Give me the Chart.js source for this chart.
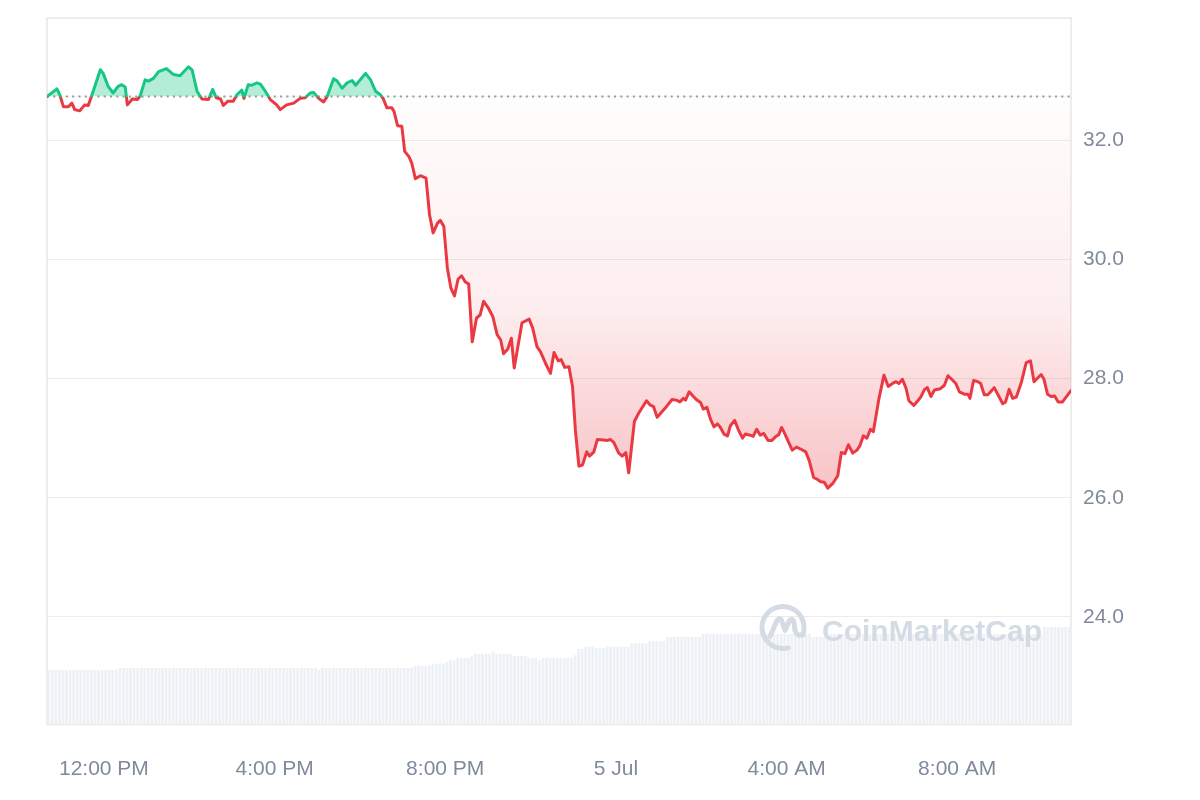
<!DOCTYPE html>
<html>
<head>
<meta charset="utf-8">
<title>Price chart</title>
<script src="https://cdn.jsdelivr.net/npm/chart.js@4.4.1/dist/chart.umd.min.js"></script>
<style>
  html,body{margin:0;padding:0;background:#fff}
  #wrap{width:1200px;height:800px;position:relative}
</style>
</head>
<body>
<div id="wrap"><canvas id="chart"></canvas></div>
<script>
// times are minutes counted from 00:00 on 4 Jul (640 = 10:40 AM, 1440 = 5 Jul 00:00)
const priceTimes = [
  640,654,658,663,670,675,679,686,693,698,705,715,719,726,733,740,745,750,753,760,
  767,771,778,783,790,797,808,818,827,839,844,851,858,867,873,878,884,888,894,902,
  907,914,917,923,928,935,940,947,954,963,968,977,987,996,1003,1010,1015,1022,1029,1034,
  1043,1048,1055,1062,1069,1074,1088,1095,1102,1109,1113,1118,1125,1128,1133,1139,1143,1149,1153,1158,
  1165,1173,1178,1183,1189,1193,1198,1203,1208,1213,1218,1223,1228,1233,1238,1244,1249,1254,1261,1267,
  1273,1278,1282,1288,1293,1297,1308,1318,1323,1329,1334,1341,1348,1353,1359,1363,1368,1374,1379,1383,
  1388,1393,1399,1403,1409,1414,1423,1428,1432,1437,1444,1449,1454,1458,1466,1472,1483,1488,1493,1498,
  1505,1511,1519,1525,1530,1535,1538,1543,1549,1554,1559,1563,1568,1573,1578,1583,1587,1592,1597,1601,
  1607,1612,1618,1622,1629,1633,1638,1643,1648,1654,1659,1665,1669,1673,1677,1683,1688,1694,1701,1707,
  1712,1718,1723,1728,1733,1738,1745,1752,1757,1762,1767,1773,1779,1783,1788,1793,1798,1802,1810,1817,
  1823,1829,1834,1838,1843,1848,1852,1859,1864,1869,1874,1878,1883,1888,1896,1902,1907,1914,1918,1923,
  1930,1935,1938,1943,1949,1953,1958,1963,1967,1972,1977,1984,1988,1993,1998,2003,2010,2017,2023,2028,
  2038,2042,2047,2052,2057,2062,2068,2080
];
const priceValues = [
  32.74,32.87,32.77,32.57,32.57,32.63,32.52,32.50,32.60,32.59,32.83,33.19,33.13,32.91,32.80,32.91,32.94,32.90,32.60,32.70,
  32.69,32.75,33.02,33.00,33.05,33.16,33.21,33.11,33.09,33.24,33.19,32.83,32.70,32.69,32.86,32.72,32.70,32.59,32.66,32.66,
  32.77,32.85,32.71,32.94,32.93,32.97,32.95,32.83,32.69,32.60,32.52,32.60,32.63,32.71,32.72,32.80,32.81,32.71,32.65,32.74,
  33.04,33.00,32.88,32.97,33.01,32.93,33.13,33.02,32.83,32.77,32.70,32.55,32.55,32.49,32.25,32.24,31.82,31.73,31.62,31.36,
  31.41,31.37,30.75,30.45,30.61,30.66,30.56,29.86,29.52,29.39,29.67,29.73,29.63,29.59,28.62,29.02,29.07,29.30,29.18,29.04,
  28.74,28.65,28.42,28.50,28.68,28.18,28.94,29.00,28.85,28.54,28.45,28.26,28.09,28.44,28.30,28.32,28.19,28.20,27.87,27.14,
  26.53,26.55,26.77,26.70,26.77,26.98,26.97,26.96,26.98,26.93,26.75,26.70,26.76,26.42,27.28,27.42,27.63,27.56,27.53,27.35,
  27.45,27.53,27.65,27.64,27.61,27.67,27.64,27.78,27.70,27.64,27.60,27.49,27.52,27.32,27.19,27.24,27.18,27.07,27.04,27.21,
  27.30,27.15,27.00,27.07,27.05,27.03,27.15,27.05,27.08,26.96,26.96,27.03,27.06,27.18,27.09,26.93,26.80,26.85,26.81,26.77,
  26.62,26.34,26.31,26.27,26.26,26.16,26.24,26.37,26.76,26.74,26.89,26.75,26.80,26.87,27.04,27.00,27.15,27.11,27.67,28.06,
  27.87,27.92,27.95,27.92,27.99,27.84,27.63,27.55,27.62,27.70,27.82,27.85,27.70,27.81,27.83,27.89,28.05,27.97,27.92,27.78,
  27.74,27.74,27.67,27.97,27.95,27.92,27.73,27.73,27.78,27.85,27.74,27.58,27.61,27.82,27.67,27.69,27.93,28.27,28.30,27.95,
  28.07,27.99,27.74,27.70,27.71,27.61,27.61,27.80
];
const openPrice = 32.74;   // price at the start of the window (dotted line)

// volume bars, one every 5 minutes from 10:40 AM
const volumeStart = 640;
const volumeStep = 5;
const volumeValues = [
  7.7,7.7,7.7,7.7,7.7,7.7,7.7,7.7,7.7,7.7,
  7.7,7.7,7.7,7.7,7.7,7.7,7.7,7.7,7.7,7.7,
  8,8,8,8,8,8,8,8,8,8,
  8,8,8,8,8,8,8,8,8,8,
  8,8,8,8,8,8,8,8,8,8,
  8,8,8,8,8,8,8,8,8,8,
  8,8,8,8,8,8,8,8,8,8,
  8,8,8,8,8,8,
  7.7,
  8,8,8,8,8,8,8,8,8,8,
  8,8,8,8,8,8,8,8,8,8,
  8,8,8,8,8,8,
  8.3,8.3,8.3,8.3,8.3,
  8.6,8.6,8.6,8.6,
  8.8,
  9.1,9.1,
  9.4,9.4,9.4,9.4,
  9.7,
  10,10,10,10,10,
  10.3,
  10,10,10,10,10,
  9.7,9.7,9.7,9.7,
  9.4,9.4,9.4,
  9.1,
  9.4,9.4,9.4,9.4,9.4,9.4,9.4,9.4,9.4,
  9.8,
  10.7,10.7,
  11,11,11,
  10.8,10.8,10.8,
  11,11,11,11,11,11,11,
  11.5,11.5,11.5,11.5,11.5,
  11.8,11.8,11.8,11.8,11.8,
  12.4,12.4,12.4,12.4,12.4,12.4,12.4,12.4,12.4,12.4,
  12.8,12.8,12.8,12.8,12.8,12.8,12.8,12.8,12.8,12.8,
  12.8,12.8,12.8,12.8,12.8,12.8,12.8,12.8,12.8,12.8,
  12.8,12.8,12.8,12.8,12.8,12.8,12.8,12.8,12.8,12.8,
  12.8,
  12.4,12.4,12.4,12.4,
  12.8,12.8,12.8,12.8,12.8,12.8,12.8,12.8,12.8,12.8,
  12.8,12.8,12.8,12.8,12.8,12.8,12.8,12.8,12.8,12.8,
  12.8,12.8,12.8,12.8,12.8,12.8,12.8,12.8,12.8,12.8,
  12.8,12.8,12.8,12.8,12.8,12.8,12.8,12.8,12.8,12.8,
  12.8,12.8,12.8,12.8,12.8,12.8,12.8,12.8,12.8,12.8,
  12.8,12.8,12.8,12.8,12.8,12.8,12.8,12.8,12.8,12.8,
  12.8,
  13.8,13.8,13.8,13.8,13.8,13.8,13.8,13.8
];

const xTickMinutes = [720, 960, 1200, 1440, 1680, 1920];
const xTickLabels = ['12:00 PM', '4:00 PM', '8:00 PM', '5 Jul', '4:00 AM', '8:00 AM'];
const yTicks = [24, 26, 28, 30, 32];

const GREEN = '#16c784';
const RED = '#ea3943';
const LABEL = '#808a9d';

Chart.defaults.font.family = '"Liberation Sans", Arial, sans-serif';
Chart.defaults.font.size = 21;
Chart.defaults.color = LABEL;

// line is green above the open price, red below it
function lineColor(c){
  const chart = c.chart, a = chart.chartArea;
  if(!a) return RED;
  const yb = chart.scales.y.getPixelForValue(openPrice);
  const f = Math.min(1, Math.max(0, (yb - a.top) / (a.bottom - a.top)));
  const g = chart.ctx.createLinearGradient(0, a.top, 0, a.bottom);
  g.addColorStop(0, GREEN); g.addColorStop(f, GREEN);
  g.addColorStop(f, RED); g.addColorStop(1, RED);
  return g;
}

// fading red area under the open price
function redFill(c){
  const chart = c.chart, a = chart.chartArea;
  if(!a) return 'rgba(234,57,67,0.1)';
  const y = chart.scales.y;
  const yb = y.getPixelForValue(openPrice);
  const yl = y.getPixelForValue(Math.min.apply(null, priceValues));
  const g = chart.ctx.createLinearGradient(0, yb, 0, yl);
  g.addColorStop(0, 'rgba(234,57,67,0.01)');
  g.addColorStop(0.55, 'rgba(234,57,67,0.09)');
  g.addColorStop(1, 'rgba(234,57,67,0.30)');
  return g;
}

const frameBox = {
  id: 'frameBox',
  beforeDatasetsDraw(chart){
    const a = chart.chartArea, ctx = chart.ctx;
    ctx.save();
    ctx.strokeStyle = '#e8e8e8';
    ctx.lineWidth = 1.5;
    ctx.strokeRect(a.left, a.top, a.right - a.left, a.bottom - a.top);
    ctx.restore();
  }
};

const watermark = {
  id: 'watermark',
  afterDatasetsDraw(chart){
    const a = chart.chartArea, ctx = chart.ctx;
    const cx = a.right - 288, cy = a.bottom - 97;
    ctx.save();
    ctx.strokeStyle = '#d5dbe5';
    ctx.fillStyle = '#d5dbe5';
    ctx.lineWidth = 5;
    ctx.lineCap = 'round';
    ctx.lineJoin = 'round';
    ctx.beginPath();
    ctx.arc(cx, cy, 21, Math.PI * 0.42, Math.PI * 2.12);
    ctx.stroke();
    ctx.beginPath();
    ctx.moveTo(cx - 13, cy + 9);
    ctx.lineTo(cx - 6, cy - 7);
    ctx.quadraticCurveTo(cx - 3, cy - 11, cx - 1, cy - 6);
    ctx.lineTo(cx + 2, cy + 3);
    ctx.lineTo(cx + 6, cy - 6);
    ctx.quadraticCurveTo(cx + 9, cy - 11, cx + 11, cy - 5);
    ctx.lineTo(cx + 12, cy + 3);
    ctx.quadraticCurveTo(cx + 14, cy + 9, cx + 19, cy + 7);
    ctx.stroke();
    ctx.font = 'bold 30px "Liberation Sans", Arial, sans-serif';
    ctx.textBaseline = 'alphabetic';
    ctx.fillText('CoinMarketCap', cx + 39, cy + 13);
    ctx.restore();
  }
};

new Chart(document.getElementById('chart'), {
  type: 'line',
  data: {
    datasets: [
      {
        label: 'Price',
        data: priceTimes.map((t, i) => ({x: t, y: priceValues[i]})),
        borderColor: lineColor,
        backgroundColor: redFill,
        fill: {value: openPrice, above: 'rgba(22,199,132,0.32)'},
        borderWidth: 3,
        tension: 0,
        pointRadius: 0,
        borderJoinStyle: 'round',
        borderCapStyle: 'round',
        order: 1
      },
      {
        label: 'Open',
        data: [{x: volumeStart, y: openPrice}, {x: priceTimes[priceTimes.length - 1], y: openPrice}],
        borderColor: '#9a9a9a',
        borderWidth: 2,
        borderDash: [2, 4.3],
        pointRadius: 0,
        fill: false,
        order: 2
      },
      {
        type: 'bar',
        label: 'Volume',
        yAxisID: 'yv',
        data: volumeValues.map((v, i) => ({x: volumeStart + volumeStep * i + volumeStep / 2, y: v})),
        backgroundColor: '#edf0f4',
        borderWidth: 0,
        categoryPercentage: 1,
        barPercentage: 0.76,
        order: 3
      }
    ]
  },
  options: {
    responsive: true,
    maintainAspectRatio: false,
    animation: false,
    events: [],
    layout: {padding: {left: 47, top: 18, right: 0, bottom: 0}},
    plugins: {legend: {display: false}, tooltip: {enabled: false}},
    scales: {
      x: {
        type: 'linear',
        offset: false,
        min: 640,
        max: 2080,
        grid: {display: false, offset: false},
        border: {display: false},
        ticks: {
          padding: 24,
          maxRotation: 0,
          autoSkip: false,
          callback: (v, i) => xTickLabels[i]
        },
        afterBuildTicks: s => { s.ticks = xTickMinutes.map(v => ({value: v})); },
        afterFit: s => { s.height = 75.5; s.paddingLeft = 0; s.paddingRight = 0; }
      },
      y: {
        position: 'right',
        min: 22.19,
        max: 34.06,
        grid: {color: '#ececec', drawTicks: false},
        border: {display: false},
        ticks: {padding: 12, callback: v => Number(v).toFixed(1)},
        afterBuildTicks: s => { s.ticks = yTicks.map(v => ({value: v})); },
        afterFit: s => { s.width = 129; s.paddingTop = 0; s.paddingBottom = 0; }
      },
      yv: {
        display: false,
        min: 0,
        max: 100
      }
    }
  },
  plugins: [frameBox, watermark]
});
</script>
</body>
</html>
